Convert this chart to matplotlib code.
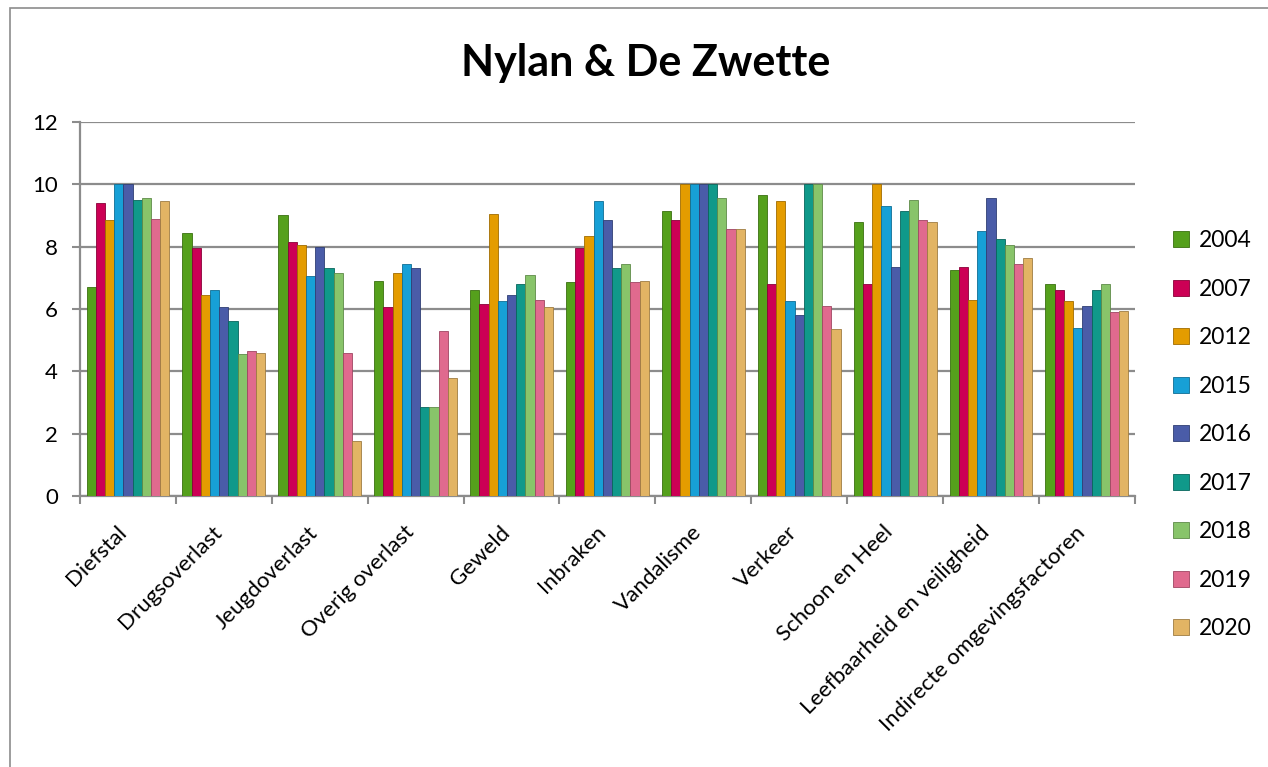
import matplotlib.pyplot as plt
import matplotlib.transforms as mtransforms
import numpy as np
from matplotlib.patches import Rectangle

plt.rcParams['font.family'] = ['Lato', 'DejaVu Sans']

categories = ["Diefstal", "Drugsoverlast", "Jeugdoverlast", "Overig overlast", "Geweld",
              "Inbraken", "Vandalisme", "Verkeer", "Schoon en Heel",
              "Leefbaarheid en veiligheid", "Indirecte omgevingsfactoren"]
years = ["2004", "2007", "2012", "2015", "2016", "2017", "2018", "2019", "2020"]

v2004 = [6.7, 8.45, 9.0, 6.9, 6.6, 6.85, 9.15, 9.65, 8.8, 7.25, 6.8]
v2007 = [9.4, 7.95, 8.15, 6.05, 6.15, 7.95, 8.85, 6.8, 6.8, 7.35, 6.6]
v2012 = [8.85, 6.45, 8.05, 7.15, 9.05, 8.35, 10.0, 9.45, 10.0, 6.3, 6.25]
v2015 = [10.0, 6.6, 7.05, 7.45, 6.25, 9.45, 10.0, 6.25, 9.3, 8.5, 5.4]
v2016 = [10.0, 6.05, 8.0, 7.3, 6.45, 8.85, 10.0, 5.8, 7.35, 9.55, 6.1]
v2017 = [9.5, 5.6, 7.3, 2.85, 6.8, 7.3, 10.0, 10.0, 9.15, 8.25, 6.6]
v2018 = [9.55, 4.55, 7.15, 2.85, 7.1, 7.45, 9.55, 10.0, 9.5, 8.05, 6.8]
v2019 = [8.9, 4.65, 4.6, 5.3, 6.3, 6.85, 8.55, 6.1, 8.85, 7.45, 5.9]
v2020 = [9.45, 4.6, 1.75, 3.8, 6.05, 6.9, 8.55, 5.35, 8.8, 7.65, 5.95]

series = [v2004, v2007, v2012, v2015, v2016, v2017, v2018, v2019, v2020]
colors = ["#55a01c", "#cc0055", "#e49c00", "#17a0d6", "#4a5ca8",
          "#10998a", "#88c46a", "#e06a8e", "#e2b464"]
edges = ["#3a7010", "#8a0038", "#a06c00", "#0e6e94", "#303e74",
         "#08665c", "#5e8a48", "#a04662", "#9e7c42"]

fig = plt.figure(figsize=(12.68, 7.67), dpi=100)
ax = fig.add_axes([0.0631, 0.3533, 0.8319, 0.4877])

x = np.arange(len(categories))
n = len(series)
w = 0.096
for i, vals in enumerate(series):
    ax.bar(x - w * (n - 1) / 2 + i * w, vals, width=w, color=colors[i],
           edgecolor=edges[i], linewidth=0.6, label=years[i], zorder=3)

ax.set_xlim(-0.5, len(categories) - 0.5)
ax.set_ylim(0, 12)
ax.set_yticks(np.arange(0, 13, 2))
ax.yaxis.grid(True, color="#8c8c8c", linewidth=1.6, zorder=0)
ax.set_axisbelow(True)
for s in ["top", "right"]:
    ax.spines[s].set_visible(False)
ax.spines["left"].set_color("#8c8c8c")
ax.spines["bottom"].set_color("#8c8c8c")
ax.spines["left"].set_linewidth(1.6)
ax.spines["bottom"].set_linewidth(1.6)

ax.set_xticks(x)
ax.set_xticklabels(categories, rotation=45, ha="right", va="center",
                   rotation_mode="anchor", fontsize=16)
ax.tick_params(axis="x", length=0, pad=24)
shift = mtransforms.ScaledTranslation(-0.05, 0, fig.dpi_scale_trans)
for lbl in ax.get_xticklabels():
    lbl.set_transform(lbl.get_transform() + shift)
ax.set_xticks(np.arange(-0.5, len(categories), 1), minor=True)
ax.tick_params(axis="x", which="minor", length=6, color="#8c8c8c", width=1.5)
ax.tick_params(axis="y", labelsize=16, length=6, color="#8c8c8c", width=1.5, pad=10)

fig.text(0.509, 0.918, "Nylan & De Zwette", ha="center", va="center",
         fontsize=31, fontweight="bold")

fig.legend(loc="center left", bbox_to_anchor=(0.909, 0.433), frameon=False,
           fontsize=16.5, handlelength=0.7, handleheight=0.7, handletextpad=0.4,
           labelspacing=1.2)

fig.patches.append(Rectangle((10 / 1268, -0.1), 1.2, 1 - 8 / 767 + 0.1, transform=fig.transFigure,
                             fill=False, edgecolor="#8c8c8c", linewidth=1.2))

plt.savefig("out.png", dpi=100)
